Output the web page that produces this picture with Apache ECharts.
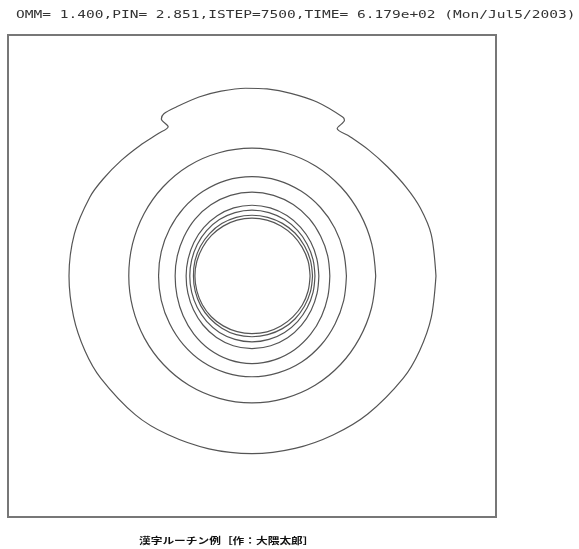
<!DOCTYPE html>
<html>
<head>
<meta charset="utf-8">
<script src="https://cdn.jsdelivr.net/npm/echarts@6/dist/echarts.min.js"></script>
<style>html,body{margin:0;padding:0;background:#fff}#c{width:579px;height:549px}</style>
</head>
<body>
<div id="c"></div>
<script>
// Header / footer texts
const TITLE_TEXT = 'OMM= 1.400,PIN= 2.851,ISTEP=7500,TIME= 6.179e+02 (Mon/Jul5/2003)';
const FOOTER_TEXT = '漢字ルーチン例［作：大隈太郎］';

// Angles (degrees, counter-clockwise from +x) used by the inner contours
const ANGLES = [0,15,30,45,60,75,90,105,120,135,150,165,180,195,210,225,240,255,270,285,300,315,330,345,360];

// Contour radii (frame half-width = 1), read at ANGLES
const C2 = [0.507,0.508,0.511,0.516,0.521,0.523,0.524,0.523,0.521,0.516,0.511,0.507,0.505,0.506,0.509,0.513,0.517,0.519,0.520,0.519,0.517,0.513,0.509,0.507,0.507];
const C3 = [0.387,0.388,0.392,0.397,0.402,0.406,0.407,0.406,0.401,0.395,0.389,0.385,0.383,0.385,0.390,0.398,0.406,0.411,0.413,0.411,0.407,0.400,0.393,0.389,0.387];
const C4 = [0.319,0.321,0.325,0.332,0.338,0.342,0.344,0.342,0.337,0.330,0.322,0.317,0.315,0.318,0.326,0.337,0.348,0.356,0.359,0.356,0.349,0.339,0.329,0.322,0.319];
const C5 = [0.274,0.275,0.278,0.282,0.286,0.289,0.290,0.289,0.285,0.280,0.275,0.271,0.270,0.272,0.277,0.284,0.291,0.296,0.298,0.296,0.292,0.286,0.280,0.276,0.274];
const C6 = [0.258,0.259,0.261,0.264,0.267,0.269,0.270,0.269,0.267,0.263,0.259,0.256,0.255,0.256,0.259,0.263,0.267,0.269,0.270,0.269,0.267,0.264,0.261,0.259,0.258];
const C7 = [0.248,0.248,0.248,0.249,0.249,0.249,0.249,0.249,0.248,0.246,0.244,0.242,0.240,0.241,0.243,0.245,0.247,0.249,0.249,0.249,0.249,0.249,0.248,0.248,0.248];
const C8 = [0.238,0.238,0.237,0.237,0.237,0.237,0.237,0.237,0.236,0.235,0.234,0.234,0.234,0.234,0.235,0.236,0.236,0.236,0.236,0.237,0.237,0.237,0.238,0.238,0.238];

// Outer contour (with the two steps near the top)
const C1_ANGLES = [0,13,22,30,39,47,55,60,59.3,60.3,69.5,78,85.4,92,99.5,106.5,114,118.5,120,119.3,123.3,130.6,138.4,146.8,154,166.6,180,192.8,204,214,230,242,256,270,284,297,310,326,336,347,360];
const C1 = [0.754,0.754,0.744,0.729,0.713,0.704,0.698,0.698,0.742,0.750,0.761,0.765,0.769,0.770,0.768,0.765,0.759,0.757,0.743,0.702,0.699,0.705,0.715,0.728,0.739,0.748,0.750,0.750,0.750,0.748,0.743,0.736,0.730,0.728,0.728,0.731,0.738,0.748,0.752,0.754,0.754];

const chart = echarts.init(document.getElementById('c'), null, {renderer: 'canvas'});

function contour(radii, angles, smooth) {
  return {
    type: 'line',
    coordinateSystem: 'polar',
    data: radii.map((r, i) => [r, angles[i]]),
    showSymbol: false,
    smooth: smooth,
    silent: true,
    lineStyle: {color: '#555', width: 1.2},
    animation: false
  };
}

chart.setOption({
  backgroundColor: '#fff',
  animation: false,
  grid: {left: 8, top: 35, width: 488, height: 482, show: true, borderColor: '#777', borderWidth: 2, backgroundColor: 'transparent'},
  xAxis: {type: 'value', min: -1, max: 1, show: false},
  yAxis: {type: 'value', min: -0.988, max: 0.988, show: false},
  polar: {center: [252, 276], radius: 244},
  angleAxis: {type: 'value', min: 0, max: 360, startAngle: 0, clockwise: false, show: false},
  radiusAxis: {type: 'value', min: 0, max: 1, show: false},
  series: [
    contour(C1, C1_ANGLES, 0.3),
    contour(C2, ANGLES, 0.35),
    contour(C3, ANGLES, 0.35),
    contour(C4, ANGLES, 0.35),
    contour(C5, ANGLES, 0.35),
    contour(C6, ANGLES, 0.35),
    contour(C7, ANGLES, 0.35),
    contour(C8, ANGLES, 0.35)
  ],
  graphic: [
    {type: 'text', x: 16, y: 15, scaleX: 1.32, silent: true,
     style: {text: TITLE_TEXT, font: '11px "DejaVu Sans Mono"', fill: '#333', verticalAlign: 'middle', textVerticalAlign: 'middle'}},
    {type: 'text', x: 139, y: 541, scaleX: 1.3, silent: true,
     style: {text: FOOTER_TEXT, font: 'bold 9px "Noto Sans CJK JP"', fill: '#111', verticalAlign: 'middle', textVerticalAlign: 'middle'}}
  ]
});
</script>
</body>
</html>
